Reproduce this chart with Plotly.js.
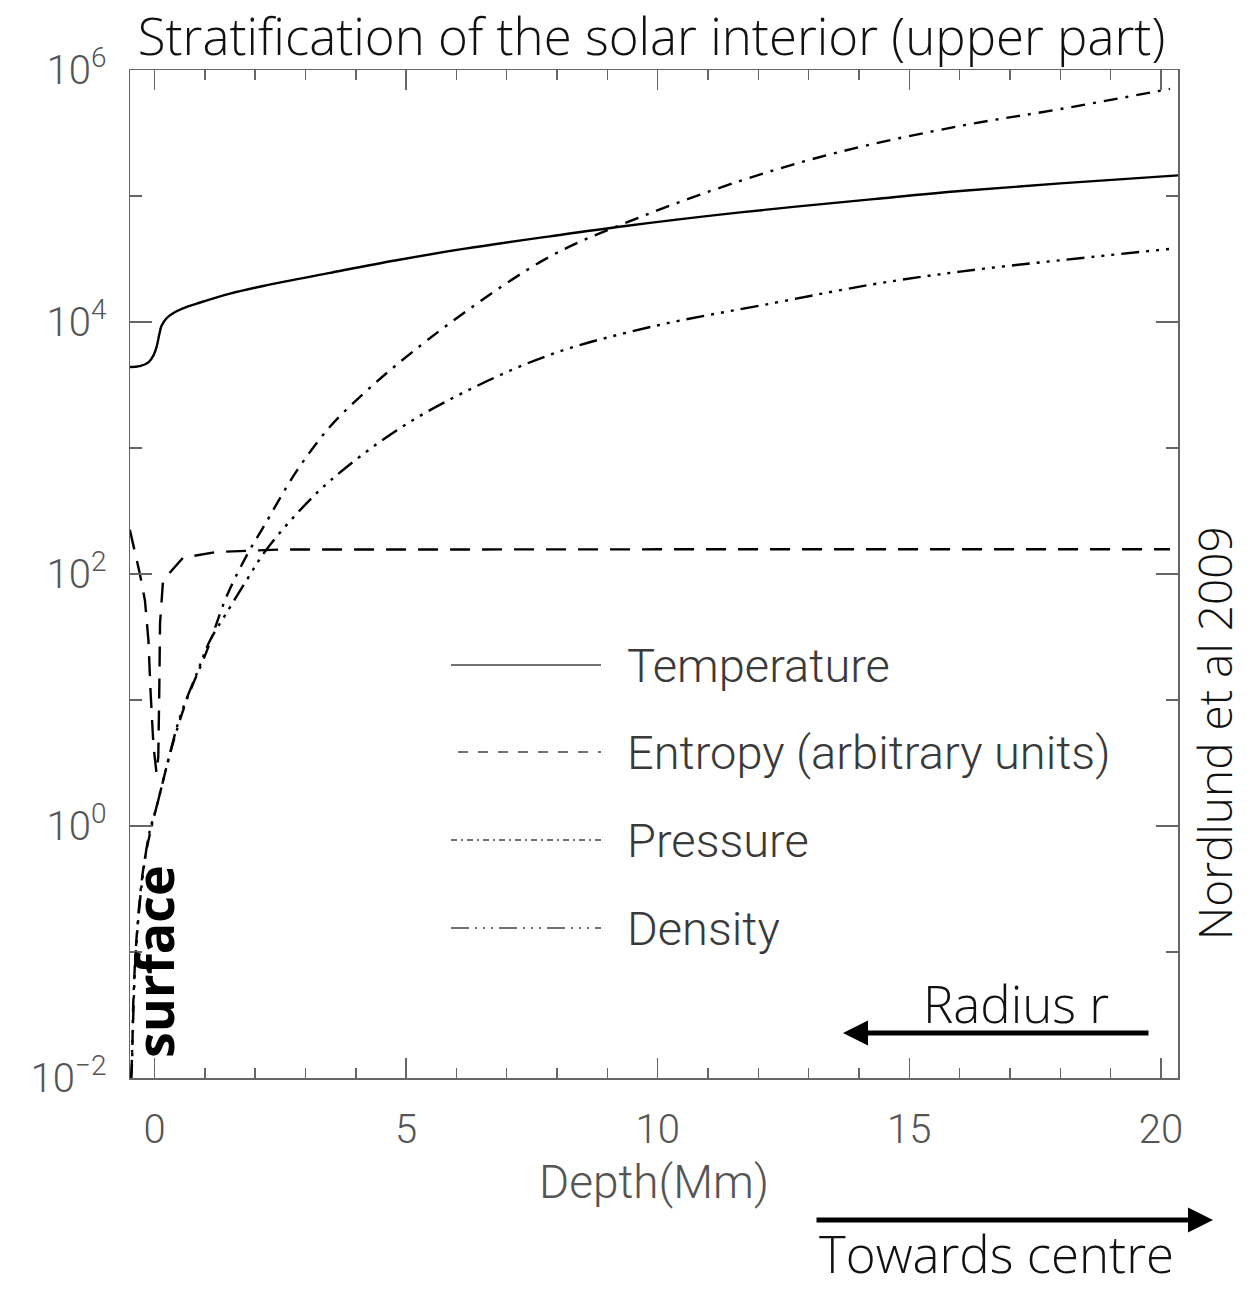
<!DOCTYPE html>
<html>
<head>
<meta charset="utf-8">
<script src="https://cdn.plot.ly/plotly-3.0.1.min.js"></script>
<style>
  html, body { margin: 0; padding: 0; background: #fff; }
  #chart { width: 1247px; height: 1291px; }
</style>
</head>
<body>
<div id="chart"></div>
<script>
// Depth below the surface in Mm for each profile
const tempDepth = [-0.49, -0.29, -0.12, -0.02, 0.04, 0.10, 0.14, 0.24, 0.37, 0.64, 0.84, 1.50, 2.16, 3.49, 4.81, 6.14, 7.86, 9.32, 11.64, 14.29, 16.01, 18.00, 20.35];
const temperature = [4395, 4467, 4786, 5433, 6310, 8128, 9333, 10720, 11750, 13180, 14000, 16790, 19320, 24550, 30900, 38020, 47860, 57540, 74130, 94410, 109600, 125900, 145900];

const entropyDepth = [-0.49, -0.29, -0.19, -0.12, -0.08, -0.02, 0.04, 0.075, 0.095, 0.11, 0.17, 0.57, 1.24, 2.49, 10.0, 20.18];
const entropy = [224, 100, 61.7, 29.5, 12.0, 4.27, 2.63, 3.55, 12.0, 40.7, 89.1, 134.9, 149.6, 156.3, 157.0, 157.0];

const pressureDepth = [-0.47, -0.45, -0.42, -0.35, -0.22, -0.09, 0.02, 0.14, 0.34, 0.64, 1.04, 1.43, 1.85, 2.16, 2.83, 3.49, 4.15, 4.81, 6.14, 7.86, 9.32, 11.64, 13.62, 16.01, 18.00, 20.18];
const pressure = [0.0100, 0.0123, 0.0417, 0.141, 0.468, 0.871, 1.318, 2.042, 4.169, 10.0, 24.55, 66.07, 144.5, 234.4, 660.7, 1479, 2692, 4571, 11750, 33110, 60260, 131800, 223900, 359700, 489800, 707900];

const densityDepth = [-0.46, -0.43, -0.37, -0.25, -0.10, 0.04, 0.24, 0.51, 0.84, 1.10, 1.43, 1.83, 2.20, 2.83, 3.49, 4.81, 6.14, 7.86, 9.85, 12.30, 14.29, 16.01, 18.00, 20.18];
const density = [0.0100, 0.0251, 0.100, 0.355, 0.891, 1.413, 2.951, 7.413, 16.22, 29.51, 48.98, 89.13, 151.4, 302.0, 549.5, 1380, 2754, 5495, 9120, 14130, 19950, 25120, 30900, 38020];

const seriesNames = ['Temperature', 'Entropy (arbitrary units)', 'Pressure', 'Density'];
const xTickVals = [0, 5, 10, 15, 20];
const yTickVals = [0.01, 1, 100, 1e4, 1e6];
const yTickText = ['10<sup>\u22122</sup>', '10<sup>0</sup>', '10<sup>2</sup>', '10<sup>4</sup>', '10<sup>6</sup>'];
const yMinorVals = [0.1, 10, 1000, 1e5];

const axisGrey = '#666';
const labelFamily = 'Roboto, "DejaVu Sans", sans-serif';
const labelFont = { family: labelFamily, weight: 300, color: '#555', size: 40 };
const textFont = { family: '"Open Sans", "Noto Sans", sans-serif', weight: 300, color: '#111', size: 51 };

// Line styles for each profile
const curveDash = [
  'solid',
  '20px,12px',
  '14px,8px,3px,8px',
  '18px,7px,3px,7px,3px,7px,3px,7px'
];
const keyDash = [
  'solid',
  '10px,10px',
  '6px,4px,2px,4px',
  '18px,6px,2px,6px,2px,6px,2px,6px'
];

const traces = [
  { x: tempDepth, y: temperature, line: { shape: 'spline', smoothing: 1 } },
  { x: entropyDepth, y: entropy, line: { shape: 'linear' } },
  { x: pressureDepth, y: pressure, line: { shape: 'spline', smoothing: 1 } },
  { x: densityDepth, y: density, line: { shape: 'spline', smoothing: 1 } }
].map((t, i) => ({
  type: 'scatter',
  mode: 'lines',
  name: seriesNames[i],
  x: t.x,
  y: t.y,
  line: Object.assign({ color: '#000', width: 2.4, dash: curveDash[i] }, t.line),
  hoverinfo: 'x+y+name'
}));

// Plot area in pixels, used to place the in-plot key and the arrow notes
const W = 1247, H = 1291;
const L = 130, R = 1178, T = 70, B = 1078;
const px = v => (v - L) / (R - L);
const py = v => (B - v) / (B - T);

// Key drawn inside the plot
const keyRows = [665, 752, 840, 928];
const shapes = keyRows.map((row, i) => ({
  type: 'line', xref: 'paper', yref: 'paper',
  x0: px(i === 1 ? 458 : 451), x1: px(601), y0: py(row), y1: py(row),
  line: { color: '#444', width: 1.6, dash: keyDash[i] }
}));

const annotations = keyRows.map((row, i) => ({
  xref: 'paper', yref: 'paper', x: px(625), y: py(row),
  xanchor: 'left', yanchor: 'middle', showarrow: false,
  text: seriesNames[i],
  font: { family: labelFamily, weight: 300, color: '#3a3a3a', size: 47 }
}));

annotations.push(
  { xref: 'paper', yref: 'paper', x: px(1214), y: py(733), textangle: -90,
    showarrow: false, text: 'Nordlund et al 2009', font: Object.assign({}, textFont, { size: 46 }),
    xanchor: 'center', yanchor: 'middle' },
  { xref: 'paper', yref: 'paper', x: px(1016), y: py(1003),
    showarrow: false, text: 'Radius r', font: textFont,
    xanchor: 'center', yanchor: 'middle' },
  { xref: 'paper', yref: 'paper', x: px(996), y: py(1290),
    showarrow: false, text: 'Towards centre', font: textFont,
    xanchor: 'center', yanchor: 'bottom' },
  { xref: 'paper', yref: 'paper', x: px(153), y: py(962), textangle: -90,
    showarrow: false, text: '<b>surface</b>',
    font: { family: '"Open Sans", "Noto Sans", sans-serif', weight: 700, color: '#000', size: 52 },
    xanchor: 'center', yanchor: 'middle' },
  // outward arrow: radius increases towards the surface
  { xref: 'paper', yref: 'paper', x: px(843), y: py(1033), ax: 1150 - 843, ay: 0,
    text: '', showarrow: true, arrowhead: 2, arrowsize: 1, arrowwidth: 5,
    arrowcolor: '#000', standoff: 0, startstandoff: 0 },
  // inward arrow: depth increases towards the centre
  { xref: 'paper', yref: 'paper', x: px(1213), y: py(1220), ax: 815 - 1213, ay: 0,
    text: '', showarrow: true, arrowhead: 2, arrowsize: 1, arrowwidth: 5,
    arrowcolor: '#000', standoff: 0, startstandoff: 0 }
);

const layout = {
  width: W, height: H,
  margin: { l: L, r: W - R, t: T, b: H - B, pad: 0 },
  paper_bgcolor: '#fff', plot_bgcolor: '#fff',
  showlegend: false,
  title: {
    text: 'Stratification of the solar interior (upper part)',
    font: textFont,
    xref: 'paper', x: px(651.5), xanchor: 'center',
    yref: 'container', y: 1 - 37 / H, yanchor: 'middle'
  },
  xaxis: {
    range: [-0.487, 20.34],
    tickmode: 'array', tickvals: xTickVals, ticktext: xTickVals.map(String),
    ticks: 'inside', ticklen: 20, tickwidth: 1.5, tickcolor: axisGrey,
    showline: true, linecolor: axisGrey, linewidth: 1.5, mirror: 'ticks',
    showgrid: false, zeroline: false,
    minor: { tickmode: 'linear', tick0: 0, dtick: 1, ticks: 'inside', ticklen: 10, tickwidth: 1.5, tickcolor: axisGrey, showgrid: false },
    tickfont: labelFont,
    ticklabelstandoff: 15,
    title: { text: 'Depth(Mm)', font: Object.assign({}, labelFont, { size: 46 }), standoff: 14 }
  },
  yaxis: {
    type: 'log', range: [-2, 6],
    tickmode: 'array', tickvals: yTickVals, ticktext: yTickText,
    ticks: 'inside', ticklen: 22, tickwidth: 1.5, tickcolor: axisGrey,
    showline: true, linecolor: axisGrey, linewidth: 1.5, mirror: 'ticks',
    showgrid: false, zeroline: false,
    minor: { tickmode: 'array', tickvals: yMinorVals, ticks: 'inside', ticklen: 12, tickwidth: 1.5, tickcolor: axisGrey, showgrid: false },
    tickfont: labelFont,
    ticklabelstandoff: 14
  },
  shapes: shapes,
  annotations: annotations
};

Plotly.newPlot('chart', traces, layout, { displayModeBar: false, staticPlot: true });
</script>
</body>
</html>
